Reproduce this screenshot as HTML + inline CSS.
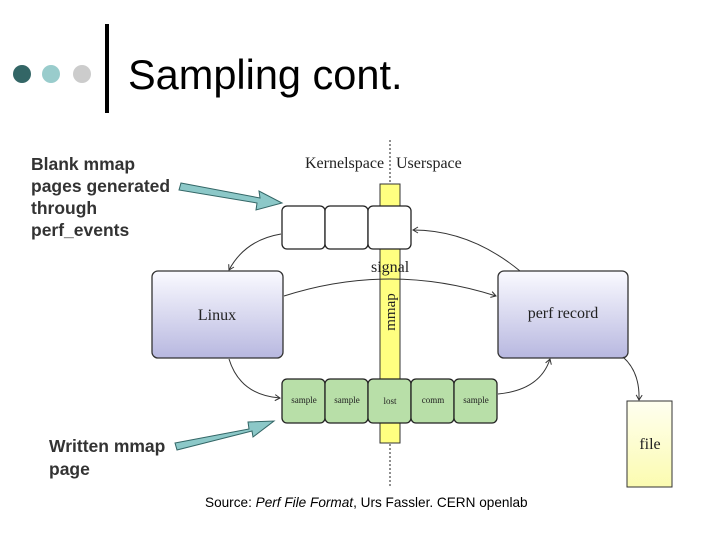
<!DOCTYPE html>
<html><head><meta charset="utf-8"><style>
body{margin:0;width:720px;height:540px;background:#fff;overflow:hidden;position:relative;font-family:"Liberation Sans",sans-serif}
.t{position:absolute}
</style></head><body>
<svg width="720" height="540" style="position:absolute;left:0;top:0">
<defs>
<linearGradient id="g" x1="0" y1="0" x2="0" y2="1"><stop offset="0" stop-color="#fafaff"/><stop offset="1" stop-color="#b8b8e0"/></linearGradient>
<linearGradient id="f" x1="0" y1="0" x2="0" y2="1"><stop offset="0" stop-color="#fffff0"/><stop offset="1" stop-color="#fbfbb0"/></linearGradient>
<marker id="a" markerWidth="8" markerHeight="8" refX="6" refY="4" orient="auto"><path d="M1,1 L6,4 L1,7" fill="none" stroke="#333" stroke-width="1"/></marker>
</defs>
<circle cx="22" cy="74" r="9" fill="#336666"/>
<circle cx="51" cy="74" r="9" fill="#99cccc"/>
<circle cx="82" cy="74" r="9" fill="#cccccc"/>
<rect x="105" y="24" width="4" height="89" fill="#000"/>
<line x1="390" y1="140" x2="390" y2="486" stroke="#222" stroke-dasharray="2,2"/>
<rect x="380" y="184" width="20" height="259" fill="#ffff80" stroke="#333"/>
<g fill="#fff" stroke="#222" stroke-width="1.3">
<rect x="282" y="206" width="43" height="43" rx="5"/><rect x="325" y="206" width="43" height="43" rx="5"/><rect x="368" y="206" width="43" height="43" rx="5"/>
</g>
<g fill="#b8dfa8" stroke="#222" stroke-width="1.3">
<rect x="282" y="379" width="43" height="44" rx="5"/><rect x="325" y="379" width="43" height="44" rx="5"/><rect x="368" y="379" width="43" height="44" rx="5"/><rect x="411" y="379" width="43" height="44" rx="5"/><rect x="454" y="379" width="43" height="44" rx="5"/>
</g>
<rect x="152" y="271" width="131" height="87" rx="6" fill="url(#g)" stroke="#333" stroke-width="1.3"/>
<rect x="498" y="271" width="130" height="87" rx="6" fill="url(#g)" stroke="#333" stroke-width="1.3"/>
<rect x="627" y="401" width="45" height="86" fill="url(#f)" stroke="#333"/>
<g fill="none" stroke="#333" stroke-width="1" marker-end="url(#a)">
<path d="M281,234 Q245,240 229,270"/>
<path d="M520,271 Q470,230 413,230"/>
<path d="M284,296 Q390,262 496,296"/>
<path d="M229,359 Q240,395 280,398"/>
<path d="M498,394 Q540,390 550,359"/>
<path d="M623,357 Q640,372 639,400"/>
</g>
<g fill="#8cc8c8" stroke="#336666" stroke-width="1">
<polygon points="181,183 260,198 259,191 282,203 256,210 257,203 179,190"/>
<polygon points="175,443 249,429 248,422 274,421 253,437 252,431 177,450"/>
</g>
<g font-family="Liberation Serif,serif" fill="#222">
<text x="305" y="168" font-size="16">Kernelspace</text>
<text x="396" y="168" font-size="16">Userspace</text>
<text x="371" y="272" font-size="16">signal</text>
<text x="395" y="312" font-size="15" transform="rotate(-90 395 312)" text-anchor="middle">mmap</text>
<text x="217" y="320" font-size="16" text-anchor="middle">Linux</text>
<text x="563" y="318" font-size="16" text-anchor="middle">perf record</text>
<text x="650" y="449" font-size="16" text-anchor="middle">file</text>
<g font-size="9" text-anchor="middle">
<text x="304" y="403">sample</text><text x="347" y="403">sample</text><text x="390" y="404">lost</text><text x="433" y="403">comm</text><text x="476" y="403">sample</text>
</g>
</g>
</svg>
<div class="t" style="left:128px;top:51px;font-size:41.5px;color:#000">Sampling cont.</div>
<div class="t" style="left:31px;top:153px;font-size:17.5px;font-weight:bold;color:#333;line-height:22px">Blank mmap<br>pages generated<br>through<br>perf_events</div>
<div class="t" style="left:49px;top:435px;font-size:17.5px;font-weight:bold;color:#333;line-height:23px">Written mmap<br>page</div>
<div class="t" style="left:205px;top:495px;font-size:13.6px;color:#000">Source: <i>Perf File Format</i>, Urs Fassler. CERN openlab</div>
</body></html>
